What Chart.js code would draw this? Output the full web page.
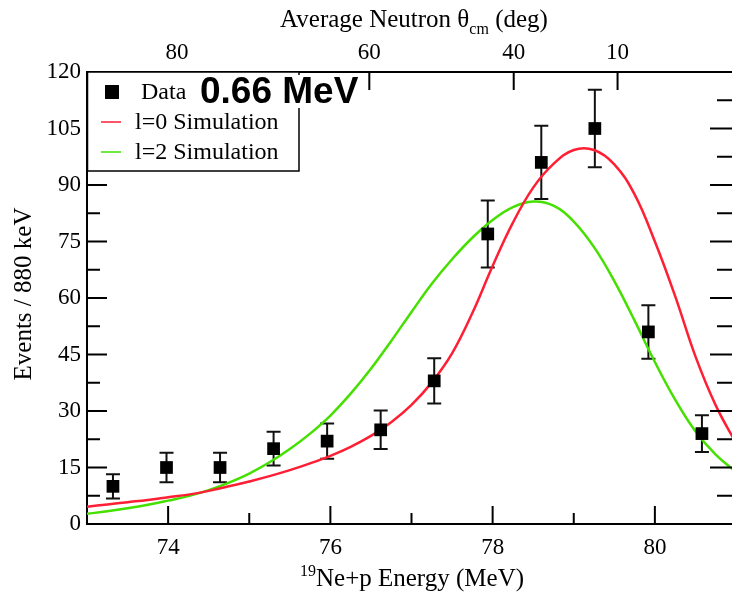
<!DOCTYPE html>
<html>
<head>
<meta charset="utf-8">
<title>19Ne+p energy spectrum</title>
<script src="https://cdn.jsdelivr.net/npm/chart.js@4.4.1/dist/chart.umd.min.js"></script>
<style>
  html, body { margin: 0; padding: 0; background: #fff; overflow: hidden; }
  #wrap { width: 745px; height: 592px; }
</style>
</head>
<body>
<div id="wrap"><canvas id="SpectrumChart" width="745" height="592"></canvas></div>
<script>
// measured events, 0.66 MeV bins
const dataEnergy = [73.32, 73.98, 74.64, 75.30, 75.96, 76.62, 77.28, 77.94, 78.60, 79.26, 79.92, 80.58];
const dataCounts = [10, 15, 15, 20, 22, 25, 38, 77, 96, 105, 51, 24];
const dataErrors = [3.2, 3.9, 3.9, 4.5, 4.7, 5.1, 6.0, 8.9, 9.7, 10.3, 7.1, 4.9];

// simulated curves
const simEnergy = [73.00, 73.25, 73.50, 73.75, 74.00, 74.25, 74.50, 74.75, 75.00, 75.25, 75.50,
                   75.75, 76.00, 76.25, 76.50, 76.75, 77.00, 77.25, 77.50, 77.75, 78.00, 78.25,
                   78.50, 78.75, 79.00, 79.25, 79.50, 79.75, 80.00, 80.25, 80.50, 80.75, 81.00];
const simL0 = [4.6, 5.2, 5.8, 6.4, 7.1, 7.8, 8.8, 10.0, 11.3, 12.7, 14.3,
               16.1, 18.1, 20.5, 23.4, 27.0, 31.6, 37.6, 45.3, 56.0, 68.5, 80.0,
               89.3, 95.6, 99.3, 99.3, 95.5, 87.5, 75.0, 60.5, 44.5, 31.5, 21.5];
const simL2 = [2.7, 3.4, 4.2, 5.1, 6.2, 7.4, 9.0, 11.0, 13.4, 16.4, 19.9,
               24.0, 28.8, 34.6, 41.2, 48.6, 56.3, 63.8, 70.3, 76.0, 80.7, 84.1,
               85.6, 84.5, 80.3, 73.5, 64.5, 54.0, 43.0, 33.0, 24.6, 18.4, 13.8];

// axes
const bottomTicks = [74, 76, 78, 80];
const bottomMinor = [75, 77, 79];
const leftTicks = [0, 15, 30, 45, 60, 75, 90, 105, 120];
const leftMinor = [7.5, 22.5, 37.5, 52.5, 67.5, 82.5, 97.5, 112.5];
const topTickLabels = ['80', '60', '40', '10'];
const topTickEnergy = [74.11, 76.48, 78.26, 79.54];

const serif = '"Liberation Serif", "DejaVu Serif", serif';
const tickFont = { family: serif, size: 23 };

function pts(xs, ys) {
    return xs.map((x, i) => ({ x: x, y: ys[i] }));
}

const framePlugin = {
    id: 'frame',
    beforeDatasetsDraw(chart) {
        const ctx = chart.ctx;
        const x = chart.scales.x;
        const y = chart.scales.y;
        ctx.save();
        ctx.strokeStyle = '#111';
        ctx.lineWidth = 2;
        dataEnergy.forEach((e, i) => {
            const px = x.getPixelForValue(e);
            const hi = y.getPixelForValue(dataCounts[i] + dataErrors[i]);
            const lo = y.getPixelForValue(dataCounts[i] - dataErrors[i]);
            ctx.beginPath();
            ctx.moveTo(px, hi); ctx.lineTo(px, lo);
            ctx.moveTo(px - 7, hi); ctx.lineTo(px + 7, hi);
            ctx.moveTo(px - 7, lo); ctx.lineTo(px + 7, lo);
            ctx.stroke();
        });
        ctx.restore();
    },
    afterDraw(chart) {
        const ctx = chart.ctx;
        const a = chart.chartArea;
        const x = chart.scales.x;
        const y = chart.scales.y;
        const top = chart.scales.x2;

        ctx.save();
        ctx.strokeStyle = '#000';
        ctx.lineWidth = 2;
        ctx.beginPath();
        // inward tick marks
        bottomTicks.forEach(v => { const p = x.getPixelForValue(v); ctx.moveTo(p, a.bottom); ctx.lineTo(p, a.bottom - 18); });
        bottomMinor.forEach(v => { const p = x.getPixelForValue(v); ctx.moveTo(p, a.bottom); ctx.lineTo(p, a.bottom - 11); });
        topTickEnergy.forEach(v => { const p = top.getPixelForValue(v); ctx.moveTo(p, a.top); ctx.lineTo(p, a.top + 18); });
        leftTicks.forEach(v => {
            const p = y.getPixelForValue(v);
            ctx.moveTo(a.left, p); ctx.lineTo(a.left + 20, p);
            ctx.moveTo(a.right, p); ctx.lineTo(a.right - 26, p);
        });
        leftMinor.forEach(v => {
            const p = y.getPixelForValue(v);
            ctx.moveTo(a.left, p); ctx.lineTo(a.left + 13, p);
            ctx.moveTo(a.right, p); ctx.lineTo(a.right - 19, p);
        });
        ctx.stroke();

        // legend box
        ctx.fillStyle = '#fff';
        ctx.fillRect(a.left, a.top, 212, 99);
        ctx.lineWidth = 1.5;
        ctx.strokeRect(a.left + 0.5, a.top, 211.5, 99);
        ctx.font = '24px ' + serif;
        ctx.textBaseline = 'middle';
        chart.data.datasets.forEach((ds, i) => {
            const ly = a.top + 20 + i * 30;
            let tx = a.left + 48;
            if (ds.showLine === false) {
                ctx.fillStyle = '#000';
                ctx.fillRect(a.left + 18, ly - 7, 14, 14);
                tx = a.left + 54;
            } else {
                ctx.strokeStyle = ds.borderColor;
                ctx.lineWidth = 1.5;
                ctx.beginPath();
                ctx.moveTo(a.left + 14, ly); ctx.lineTo(a.left + 34, ly);
                ctx.stroke();
            }
            ctx.fillStyle = '#000';
            ctx.fillText(ds.label, tx, ly + 1);
        });

        // bin width note
        ctx.fillStyle = '#fff';
        ctx.fillRect(a.left + 108, a.top + 3, 170, 33);
        ctx.fillStyle = '#000';
        ctx.font = 'bold 37px "Liberation Sans", Arial, sans-serif';
        ctx.textBaseline = 'alphabetic';
        ctx.fillText('0.66 MeV', a.left + 113, a.top + 31);

        // axis titles
        const big = '25px ' + serif, small = '16px ' + serif;
        const t1 = 'Average Neutron \u03b8', t2 = ' (deg)';
        ctx.font = small;
        const wSub = ctx.measureText('cm').width;
        ctx.font = big;
        const w1 = ctx.measureText(t1).width, w2 = ctx.measureText(t2).width;
        let tx = 414 - (w1 + wSub + w2) / 2;
        ctx.fillText(t1, tx, 27);
        ctx.font = small;
        ctx.fillText('cm', tx + w1, 34);
        ctx.font = big;
        ctx.fillText(t2, tx + w1 + wSub, 27);

        const b1 = 'Ne+p Energy (MeV)';
        ctx.font = small;
        const wSup = ctx.measureText('19').width;
        ctx.font = big;
        const wb = ctx.measureText(b1).width;
        tx = 412 - (wSup + wb) / 2;
        ctx.font = small;
        ctx.fillText('19', tx, 576);
        ctx.font = big;
        ctx.fillText(b1, tx + wSup, 586);

        ctx.translate(24, 294);
        ctx.rotate(-Math.PI / 2);
        ctx.textAlign = 'center';
        ctx.textBaseline = 'middle';
        ctx.fillText('Events / 880 keV', 0, 0);
        ctx.restore();
    }
};

const ctx = document.getElementById('SpectrumChart').getContext('2d');
const spectrumChart = new Chart(ctx, {
    type: 'line',
    data: {
        datasets: [{
            label: 'Data',
            data: pts(dataEnergy, dataCounts),
            showLine: false,
            pointStyle: 'rect',
            pointRadius: 9,
            pointBackgroundColor: '#000',
            pointBorderWidth: 0,
            order: 0
        },
        {
            label: 'l=0 Simulation',
            data: pts(simEnergy, simL0),
            borderColor: '#ff1f35',
            borderWidth: 2.5,
            pointRadius: 0,
            tension: 0.4,
            order: 1
        },
        {
            label: 'l=2 Simulation',
            data: pts(simEnergy, simL2),
            borderColor: '#45e000',
            borderWidth: 2.5,
            pointRadius: 0,
            tension: 0.4,
            order: 2
        }]
    },
    options: {
        responsive: false,
        animation: false,
        events: [],
        layout: { padding: { left: 0, right: 4, top: 0, bottom: 0 } },
        plugins: { legend: { display: false }, tooltip: { enabled: false } },
        scales: {
            x: {
                type: 'linear', position: 'bottom', min: 73, max: 81,
                grid: { display: false, drawTicks: false },
                border: { display: true, color: '#000', width: 2 },
                ticks: { font: tickFont, color: '#000', padding: 10, maxRotation: 0 },
                afterBuildTicks: s => { s.ticks = bottomTicks.map(v => ({ value: v })); },
                afterFit: s => { s.height = 68; }
            },
            x2: {
                type: 'linear', position: 'top', min: 73, max: 81,
                grid: { display: false, drawTicks: false },
                border: { display: true, color: '#000', width: 2 },
                ticks: { font: tickFont, color: '#000', padding: 5, maxRotation: 0,
                         callback: (v, i) => topTickLabels[i] },
                afterBuildTicks: s => { s.ticks = topTickEnergy.map(v => ({ value: v })); },
                afterFit: s => { s.height = 72; }
            },
            y: {
                type: 'linear', position: 'left', min: 0, max: 120,
                grid: { display: false, drawTicks: false },
                border: { display: true, color: '#000', width: 2 },
                ticks: { stepSize: 15, font: tickFont, color: '#000', padding: 6 },
                afterFit: s => { s.width = 87; }
            }
        }
    },
    plugins: [framePlugin]
});
</script>
</body>
</html>
